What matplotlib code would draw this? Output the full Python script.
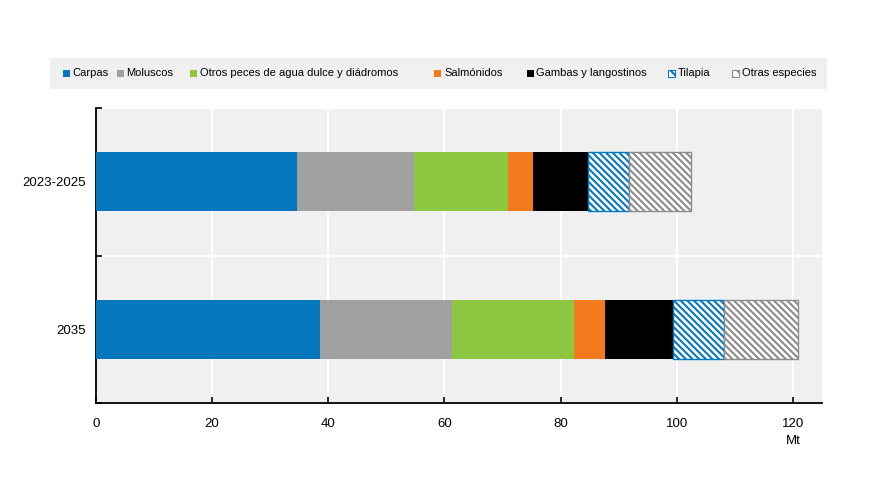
import matplotlib
matplotlib.use("Agg")
import matplotlib.pyplot as plt
from matplotlib.patches import Rectangle
import numpy as np

plt.rcParams['font.family'] = ['Liberation Sans', 'DejaVu Sans']
plt.rcParams['hatch.linewidth'] = 1.5

periods = ["2023-2025", "2035"]
species = ["Carpas", "Moluscos", "Otros peces de agua dulce y diádromos",
           "Salmónidos", "Gambas y langostinos", "Tilapia", "Otras especies"]
carpas = [34.6, 38.6]
moluscos = [20.1, 22.7]
otros_peces = [16.3, 21.0]
salmonidos = [4.3, 5.4]
gambas = [9.4, 11.7]
tilapia = [7.1, 8.7]
otras = [10.6, 12.7]
series = [carpas, moluscos, otros_peces, salmonidos, gambas, tilapia, otras]
xticks = [0, 20, 40, 60, 80, 100, 120]

colors = ["#0477bf", "#a0a0a0", "#8dc63f", "#f47a20", "#000000", "#0477bf", "#8c8c8c"]
hatched = [False, False, False, False, False, True, True]
HATCH = "\\" * 5

fig = plt.figure(figsize=(8.75, 5), dpi=100)
ax = fig.add_axes([96/875, 1-403/500, (822-96)/875, (403-108)/500])
ax.set_facecolor("#f0f0f0")

y = np.arange(len(periods))
left = np.zeros(len(periods))
for vals, c, h in zip(series, colors, hatched):
    vals = np.array(vals)
    if h:
        ax.barh(y, vals, left=left, height=0.4, facecolor="white", edgecolor=c,
                hatch=HATCH, linewidth=1.0, zorder=3)
    else:
        ax.barh(y, vals, left=left, height=0.4, color=c, edgecolor="none", zorder=3)
    left += vals

ax.set_xlim(0, 125)
ax.set_ylim(1.5, -0.5)
ax.set_xticks(xticks)
ax.set_xticklabels([str(t) for t in xticks], fontsize=9.5)
ax.set_yticks(y)
ax.set_yticklabels(periods, fontsize=9.5)
ax.set_yticks([-0.5, 0.5, 1.5], minor=True)
ax.tick_params(axis='y', which='major', length=0, pad=7)
ax.tick_params(axis='y', which='minor', length=4, direction='in', width=1.2)
ax.tick_params(axis='x', which='major', length=4, direction='in', width=1.2, pad=11)
ax.grid(axis='x', which='major', color='white', linewidth=1.5, zorder=1)
ax.grid(axis='y', which='minor', color='white', linewidth=1.5, zorder=1)
ax.set_axisbelow(True)
for s in ['top', 'right']:
    ax.spines[s].set_visible(False)
for s in ['left', 'bottom']:
    ax.spines[s].set_linewidth(1.3)
    ax.spines[s].set_color('black')

fig.text(793/875, 1-441/500, "Mt", ha='center', va='center', fontsize=9.5)

# Legend box
fig.patches.append(Rectangle((50/875, 1-89/500), (827-50)/875, 31/500,
                             transform=fig.transFigure, facecolor="#f0f0f0",
                             edgecolor="none", zorder=0))
sq_x = [62.5, 116.5, 190, 434, 526.5, 668, 731.5]
sq = 7
yc = 73
for name, c, h, sx in zip(species, colors, hatched, sq_x):
    if h:
        r = Rectangle((sx/875, 1-(yc+sq/2)/500), sq/875, sq/500, transform=fig.transFigure,
                      facecolor="white", edgecolor=c, hatch="\\\\\\", linewidth=0.8)
    else:
        r = Rectangle((sx/875, 1-(yc+sq/2)/500), sq/875, sq/500, transform=fig.transFigure,
                      facecolor=c, edgecolor="none")
    fig.patches.append(r)
    fig.text((sx+sq+3)/875, 1-yc/500, name, ha='left', va='center', fontsize=8)

fig.savefig("out.png", dpi=100)
